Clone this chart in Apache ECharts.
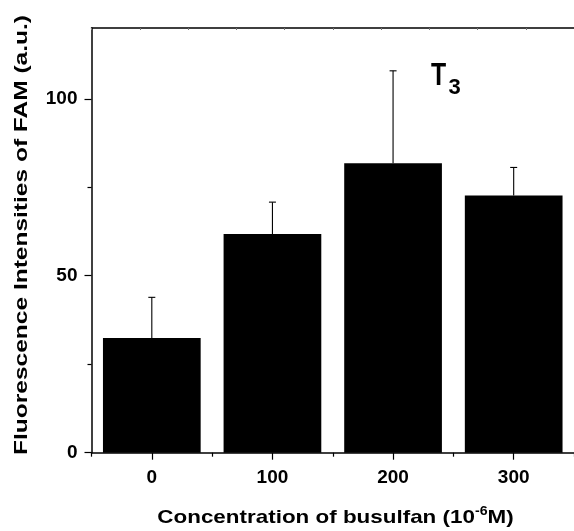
<!DOCTYPE html>
<html>
<head>
<meta charset="utf-8">
<script src="https://cdn.jsdelivr.net/npm/echarts@6/dist/echarts.min.js"></script>
<style>
  html, body { margin: 0; padding: 0; background: #fff; }
  #chart { width: 574px; height: 531px; }
</style>
</head>
<body>
<div id="chart"></div>
<script>
// Busulfan concentrations (10^-6 M) on the category axis
const concentrations = ['0', '100', '200', '300'];
// Mean FAM fluorescence intensity (a.u.) for each concentration
const meanIntensity = [32.4, 61.8, 81.8, 72.7];
// Upper error (standard deviation) drawn above each bar
const upperError = [11.5, 9.0, 26.1, 7.9];
// Value axis range and tick positions
const yRange = { min: 0, max: 120 };
const yMajorTicks = [0, 50, 100];
const yMinorTicks = [25, 75];

const FONT = '"Liberation Sans", Arial, sans-serif';
const chart = echarts.init(document.getElementById('chart'), null, { renderer: 'canvas' });

const errorData = meanIntensity.map((m, i) => [i, m, m + upperError[i]]);

chart.setOption({
  animation: false,
  backgroundColor: '#ffffff',
  grid: { left: 91.5, top: 28, right: -6, bottom: 78.3, containLabel: false },
  xAxis: [
    {
      type: 'category',
      data: concentrations,
      position: 'bottom',
      axisLine: { show: true, lineStyle: { color: '#000', width: 1.5 } },
      axisTick: { show: true, alignWithLabel: true, length: 7, lineStyle: { color: '#000', width: 1.2 } },
      axisLabel: { color: '#000', fontFamily: FONT, fontWeight: 'bold', fontSize: 19, margin: 16 },
      splitLine: { show: false }
    },
    {
      // boundary ticks between categories
      type: 'category',
      data: concentrations,
      position: 'bottom',
      axisLine: { show: false },
      axisTick: { show: true, alignWithLabel: false, length: 4, lineStyle: { color: '#000', width: 1.2 } },
      axisLabel: { show: false },
      splitLine: { show: false }
    },
    {
      // top frame with fine ticks
      type: 'value',
      position: 'top',
      min: 0, max: 10, interval: 1,
      axisLine: { show: true, onZero: false, lineStyle: { color: '#000', width: 1.5 } },
      axisTick: { show: true, inside: true, length: 2, lineStyle: { color: '#777', width: 1 } },
      axisLabel: { show: false },
      splitLine: { show: false }
    }
  ],
  yAxis: [
    {
      type: 'value',
      min: yRange.min, max: yRange.max,
      axisLine: { show: true, lineStyle: { color: '#000', width: 1.5 } },
      axisTick: { show: true, length: 7, customValues: yMajorTicks, lineStyle: { color: '#000', width: 1.2 } },
      axisLabel: { color: '#000', fontFamily: FONT, fontWeight: 'bold', fontSize: 19, margin: 14, customValues: yMajorTicks },
      splitLine: { show: false }
    },
    {
      // minor ticks
      type: 'value',
      position: 'left',
      min: yRange.min, max: yRange.max,
      axisLine: { show: false },
      axisTick: { show: true, length: 4, customValues: yMinorTicks, lineStyle: { color: '#000', width: 1.2 } },
      axisLabel: { show: false },
      splitLine: { show: false }
    }
  ],
  series: [
    {
      type: 'bar',
      xAxisIndex: 0,
      yAxisIndex: 0,
      data: meanIntensity,
      barWidth: '81%',
      itemStyle: { color: '#000' },
      silent: true
    },
    {
      type: 'custom',
      xAxisIndex: 0,
      yAxisIndex: 0,
      data: errorData,
      z: 5,
      renderItem: function (params, api) {
        const base = api.coord([api.value(0), api.value(1)]);
        const top = api.coord([api.value(0), api.value(2)]);
        const half = 3.5;
        const style = { stroke: '#000', lineWidth: 1.1 };
        return {
          type: 'group',
          children: [
            { type: 'line', shape: { x1: base[0], y1: base[1], x2: top[0], y2: top[1] }, style: style },
            { type: 'line', shape: { x1: top[0] - half, y1: top[1], x2: top[0] + half, y2: top[1] }, style: style }
          ]
        };
      }
    }
  ],
  graphic: [
    {
      // x-axis title
      type: 'text',
      x: 335.5, y: 518,
      scaleX: 1.18,
      style: {
        text: 'Concentration of busulfan (10{sup|-6}M)',
        align: 'center', verticalAlign: 'middle',
        fill: '#000', font: 'bold 19px ' + FONT,
        rich: { sup: { font: 'bold 12px ' + FONT, fill: '#000', padding: [0, 0, 12, 0] } }
      }
    },
    {
      // y-axis title
      type: 'text',
      x: 21.5, y: 235,
      rotation: Math.PI / 2,
      scaleX: 1.29,
      style: {
        text: 'Fluorescence Intensities of FAM (a.u.)',
        align: 'center', verticalAlign: 'middle',
        fill: '#000', font: 'bold 19px ' + FONT
      }
    },
    {
      type: 'text',
      x: 431, y: 76.5,
      scaleX: 0.8,
      style: { text: 'T', align: 'left', verticalAlign: 'middle', fill: '#000', font: 'bold 31px ' + FONT }
    },
    {
      type: 'text',
      x: 448.5, y: 88,
      style: { text: '3', align: 'left', verticalAlign: 'middle', fill: '#000', font: 'bold 22px ' + FONT }
    }
  ]
});
</script>
</body>
</html>
